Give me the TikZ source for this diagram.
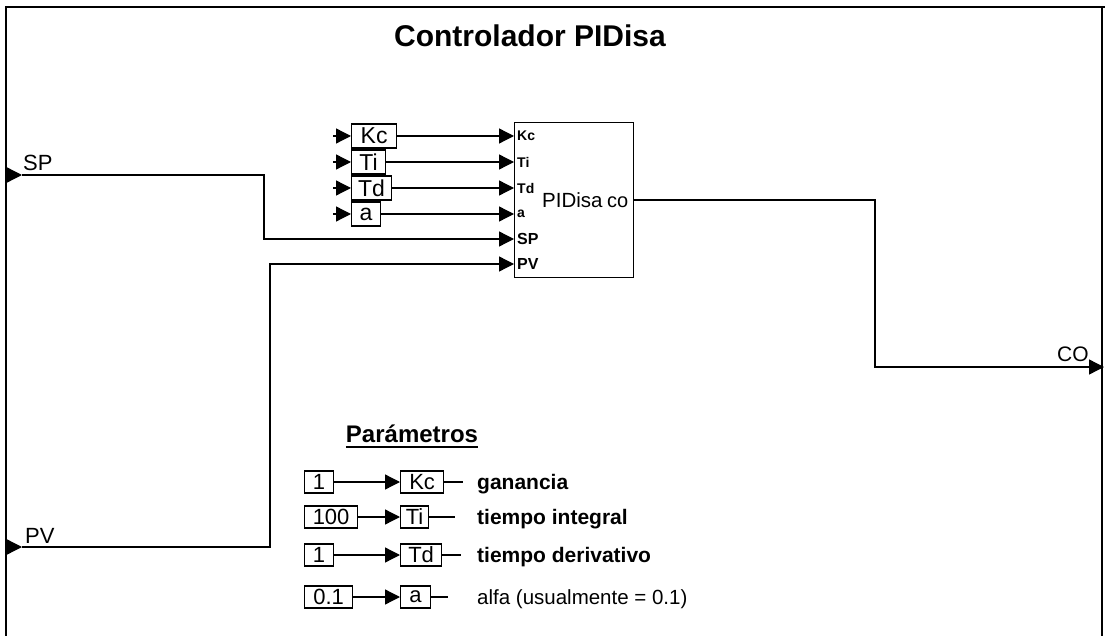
\documentclass[tikz,border=0pt]{standalone}
\usepackage{fontspec}
\setmainfont{Liberation Sans}
\usetikzlibrary{arrows.meta}
\begin{document}
\begin{tikzpicture}[x=1pt,y=-1pt,
  ln/.style={line width=1.3pt},
  arr/.style={line width=1.3pt,-{Triangle[length=15pt,width=15pt]}},
  blk/.style={draw,line width=1.2pt,minimum height=24pt,inner sep=0pt,anchor=west,font=\fontsize{23}{24}\selectfont},
  pbox/.style={draw,line width=1.2pt,minimum height=22pt,inner sep=0pt,anchor=west,font=\fontsize{22}{24}\selectfont},
  port/.style={anchor=west,inner sep=0pt,xshift=3pt,font=\fontsize{14}{16}\bfseries\selectfont},
  portb/.style={anchor=west,inner sep=0pt,xshift=3pt,font=\fontsize{16}{18}\bfseries\selectfont},
  sig/.style={anchor=base west,inner sep=0pt,font=\fontsize{22}{24}\selectfont},
  descb/.style={anchor=base west,inner sep=0pt,font=\fontsize{21}{24}\bfseries\selectfont},
  descn/.style={anchor=base west,inner sep=0pt,font=\fontsize{20.5}{24}\selectfont}]
\useasboundingbox (0,0) rectangle (1105,636);
% frame
\draw[line width=1.8pt] (6,636) -- (6,7) -- (1105,7);
\draw[line width=1.3pt] (1102,7) -- (1102,636);
% title
\node[anchor=base,inner sep=0pt,font=\fontsize{30}{34}\bfseries\selectfont] (title) at (530,47) {Controlador PIDisa};
% PID block
\node[draw,line width=1.3pt,minimum width=119pt,minimum height=155pt,inner sep=0pt,anchor=north west] (pid) at (514,122) {};
\node[sig,font=\fontsize{20.5}{24}\selectfont] (pidtxt) at (542,208) {PIDisa};
\node[sig,font=\fontsize{20}{24}\selectfont] (cotxt) at (607,208) {co};
% ports
\coordinate (pkc) at (514,136);
\coordinate (pti) at (514,162);
\coordinate (ptd) at (514,188);
\coordinate (pa)  at (514,214);
\coordinate (psp) at (514,239);
\coordinate (ppv) at (514,264);
\node[port] (lkc) at (pkc) {Kc};
\node[port] (lti) at (pti) {Ti};
\node[port] (ltd) at (ptd) {Td};
\node[port] (la)  at (pa)  {a};
\node[portb] (lsp) at (psp) {SP};
\node[portb] (lpv) at (ppv) {PV};
% parameter inputs
\node[blk,minimum width=45pt] (kc) at (351,136) {Kc};
\node[blk,minimum width=34pt] (ti) at (351,162) {Ti};
\node[blk,minimum width=40pt] (td) at (351,188) {Td};
\node[blk,minimum width=29pt] (aa) at (351,214) {a};
\coordinate (ikc) at (333,136);
\coordinate (iti) at (333,162);
\coordinate (itd) at (333,188);
\coordinate (ia)  at (333,214);
\draw[arr] (ikc) -- (kc);
\draw[arr] (iti) -- (ti);
\draw[arr] (itd) -- (td);
\draw[arr] (ia) -- (aa);
\draw[arr] (kc) -- (pkc);
\draw[arr] (ti) -- (pti);
\draw[arr] (td) -- (ptd);
\draw[arr] (aa) -- (pa);
% SP
\coordinate (spb) at (6,175);
\coordinate (spt) at (22,175);
\draw[arr] (spb) -- (spt);
\node[sig] (splab) at (23,171) {SP};
\draw[arr] (spt) -- (264,175) -- (264,239) -- (psp);
% PV
\coordinate (pvb) at (6,547);
\coordinate (pvt) at (22,547);
\draw[arr] (pvb) -- (pvt);
\node[sig] (pvlab) at (25,543) {PV};
\draw[arr] (pvt) -- (270,547) -- (270,264) -- (ppv);
% CO
\coordinate (pco) at (633,200);
\coordinate (cout) at (1104,367);
\draw[arr] (pco) -- (875,200) -- (875,367) -- (cout);
\node[sig,font=\fontsize{21}{24}\selectfont] (colab) at (1057,361) {CO};
% Parametros
\node[anchor=base,inner sep=0pt,font=\fontsize{24}{28}\bfseries\selectfont] (par) at (412,442) {Parámetros};
\draw[line width=1.8pt] ([yshift=-5pt]par.base west) -- ([yshift=-5pt]par.base east);
% rows
\node[pbox,minimum width=29pt] (v1) at (304,482) {1};
\node[pbox,minimum width=53pt] (v2) at (304,517) {100};
\node[pbox,minimum width=29pt] (v3) at (304,555) {1};
\node[pbox,minimum width=48pt] (v4) at (304,597) {0.1};
\node[pbox,minimum width=43pt] (k1) at (400,482) {Kc};
\node[pbox,minimum width=28pt] (k2) at (400,517) {Ti};
\node[pbox,minimum width=41pt] (k3) at (400,555) {Td};
\node[pbox,minimum width=30pt] (k4) at (400,597) {a};
\draw[arr] (v1) -- (k1);
\draw[arr] (v2) -- (k2);
\draw[arr] (v3) -- (k3);
\draw[arr] (v4) -- (k4);
\coordinate (s1) at (463,482);
\coordinate (s2) at (455,517);
\coordinate (s3) at (461,555);
\coordinate (s4) at (448,597);
\draw[ln] (k1) -- (s1);
\draw[ln] (k2) -- (s2);
\draw[ln] (k3) -- (s3);
\draw[ln] (k4) -- (s4);
\node[descb] (d1) at (477,489) {ganancia};
\node[descb] (d2) at (477,524) {tiempo integral};
\node[descb] (d3) at (477,562) {tiempo derivativo};
\node[descn] (d4) at (477,604) {alfa (usualmente = 0.1)};
\end{tikzpicture}
\end{document}
